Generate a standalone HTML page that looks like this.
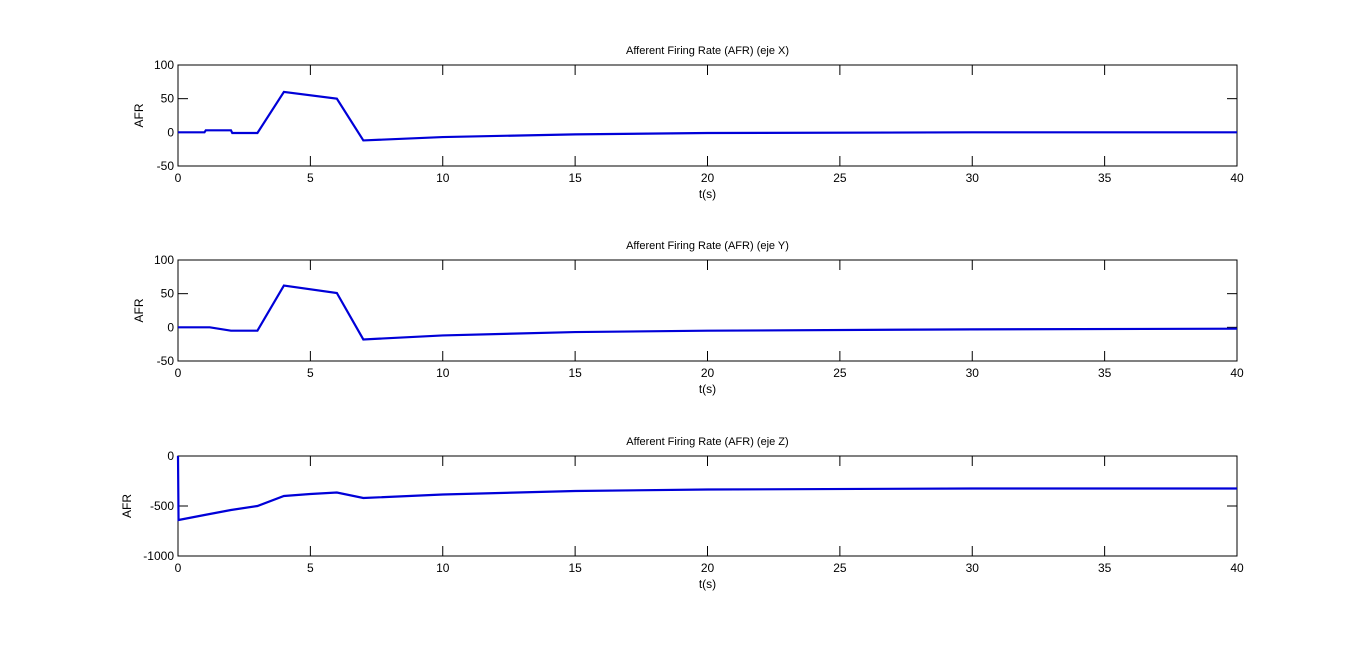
<!DOCTYPE html>
<html><head><meta charset="utf-8"><style>
body{margin:0;background:#fff;}
svg{display:block;font-family:"Liberation Sans",sans-serif;}
</style></head><body>
<svg id="fig" width="1367" height="652"></svg>
<script>
const tX = [0,1,1.05,2,2.05,3,4,6,7,10,15,20,30,40];
const afrX = [0,0,3,3,-1,-1,60,50,-12,-7,-3,-1,0,0];
const tY = [0,1.2,2,3,4,6,7,10,15,20,30,40];
const afrY = [0,0,-5,-5,62,51,-18,-12,-7,-5,-3,-2];
const tZ = [0,0.02,1,2,3,4,5,6,7,10,15,20,30,40];
const afrZ = [0,-640,-590,-540,-500,-400,-380,-365,-420,-385,-350,-335,-325,-325];
const xTicks = [0,5,10,15,20,25,30,35,40];
const yTicksXY = [-50,0,50,100];
const yTicksZ = [-1000,-500,0];
const titles = ["Afferent Firing Rate (AFR) (eje X)","Afferent Firing Rate (AFR) (eje Y)","Afferent Firing Rate (AFR) (eje Z)"];

const NS="http://www.w3.org/2000/svg";
const svg=document.getElementById('fig');
function mk(tag,attrs,parent){const e=document.createElementNS(NS,tag);for(const k in attrs)e.setAttribute(k,attrs[k]);(parent||svg).appendChild(e);return e;}
const L=178,R=1237;
const panels=[
 {top:65,bot:166,ymin:-50,ymax:100,yt:yTicksXY,t:tX,v:afrX,name:'x'},
 {top:260,bot:361,ymin:-50,ymax:100,yt:yTicksXY,t:tY,v:afrY,name:'y'},
 {top:456,bot:556,ymin:-1000,ymax:0,yt:yTicksZ,t:tZ,v:afrZ,name:'z'}];
panels.forEach((p,i)=>{
 const g=mk('g',{});
 
 
 const sx=x=>L+(x-0)/40*(R-L);
 const sy=y=>p.bot-(y-p.ymin)/(p.ymax-p.ymin)*(p.bot-p.top);
 const bg=mk('rect',{x:L,y:p.top,width:R-L,height:p.bot-p.top,fill:'#fff',stroke:'#000','stroke-width':1},g);
 
 
 xTicks.forEach(t=>{
  const x=sx(t);
  mk('line',{x1:x,x2:x,y1:p.bot,y2:p.bot-10,stroke:'#000'},g);
  mk('line',{x1:x,x2:x,y1:p.top,y2:p.top+10,stroke:'#000'},g);
  const tx=mk('text',{x:x,y:p.bot+16,'font-size':12,'text-anchor':'middle'},g);
  tx.textContent=t;
  
  
 });
 p.yt.forEach(t=>{
  const y=sy(t);
  mk('line',{x1:L,x2:L+10,y1:y,y2:y,stroke:'#000'},g);
  mk('line',{x1:R,x2:R-10,y1:y,y2:y,stroke:'#000'},g);
  const tx=mk('text',{x:L-4,y:y+4,'font-size':12,'text-anchor':'end'},g);
  tx.textContent=t;
  
  
 });
 const pts=p.t.map((t,j)=>sx(t)+','+sy(p.v[j])).join(' ');
 const ln=mk('polyline',{points:pts,fill:'none',stroke:'#0000d8','stroke-width':2.2},g);
 
 
 const ti=mk('text',{x:(L+R)/2,y:p.top-11,'font-size':11,'text-anchor':'middle'},g);
 ti.textContent=titles[i];
 
 
 const xl=mk('text',{x:(L+R)/2,y:p.bot+32,'font-size':12,'text-anchor':'middle'},g);
 xl.textContent='t(s)';
 
 
 const yx=i==2?131:143, yc=(p.top+p.bot)/2;
 const yl=mk('text',{x:yx,y:yc,'font-size':12,'text-anchor':'middle',transform:`rotate(-90 ${yx} ${yc})`},g);
 yl.textContent='AFR';
 
 
});
</script>
</body></html>
